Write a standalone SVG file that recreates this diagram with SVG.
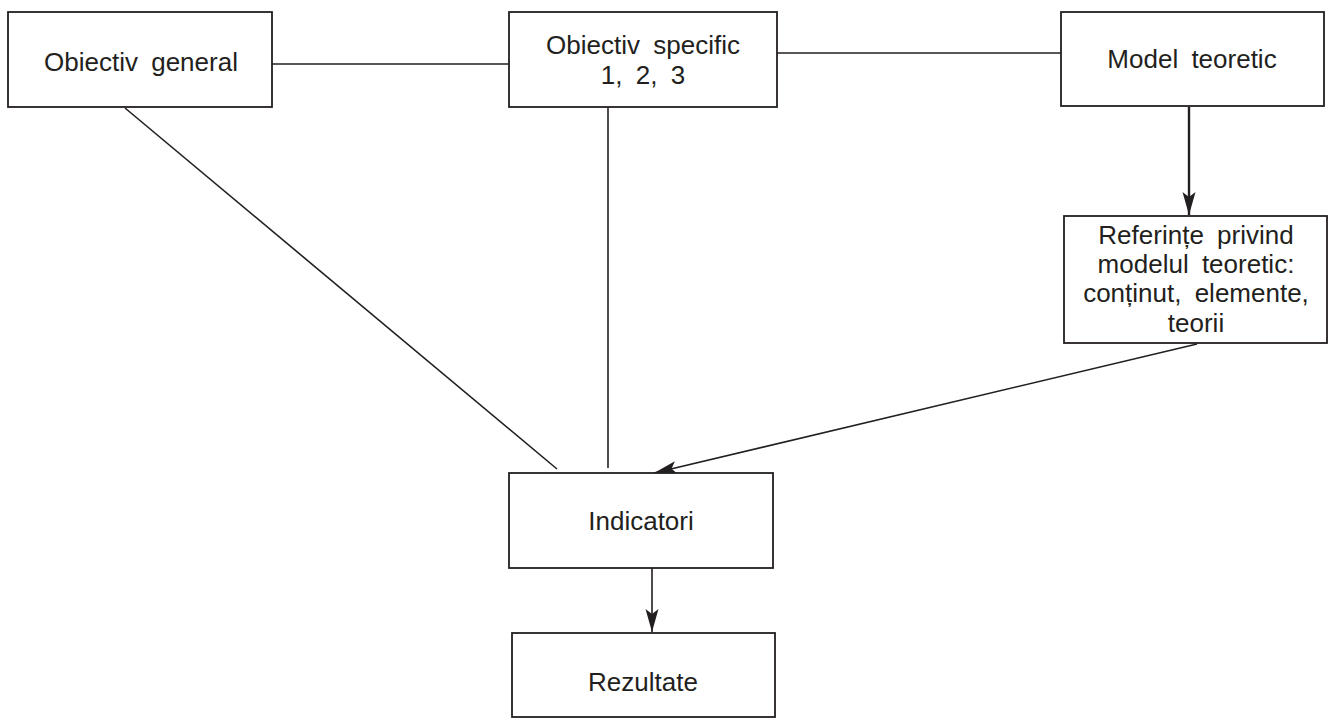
<svg xmlns="http://www.w3.org/2000/svg" width="1330" height="720" viewBox="0 0 1330 720">
  <style>
    .box { fill: #ffffff; stroke: #231f20; stroke-width: 1.8; }
    .lbl { font-family: "Liberation Sans", Arial, Helvetica, sans-serif; font-size: 26px; fill: #231f20; text-anchor: middle; word-spacing: 6px; }
    .conn { stroke: #231f20; stroke-width: 1.6; fill: none; }
    .thick { stroke-width: 2.4; }
  </style>
  <defs>
    <marker id="arrow" markerUnits="userSpaceOnUse" orient="auto" viewBox="-24 -8 26 16" refX="0" refY="0" markerWidth="26" markerHeight="16" overflow="visible">
      <path d="M0,0 L-23,-6.5 L-18,0 L-23,6.5 Z" fill="#231f20"/>
    </marker>
  </defs>
  <rect width="1330" height="720" fill="#ffffff"/>

  <g id="connectors">
    <line class="conn" x1="272" y1="64" x2="509" y2="64"/>
    <line class="conn" x1="777" y1="53" x2="1061" y2="53"/>
    <line class="conn" x1="125" y1="108" x2="557" y2="469"/>
    <line class="conn" x1="608" y1="108" x2="608" y2="468"/>
    <line class="conn thick" x1="1189" y1="107" x2="1189" y2="215" marker-end="url(#arrow)"/>
    <line class="conn" x1="1197" y1="344" x2="654" y2="473" marker-end="url(#arrow)"/>
    <line class="conn" x1="652" y1="568" x2="652" y2="632" marker-end="url(#arrow)"/>
  </g>

  <g id="obiectiv-general">
    <rect class="box" x="8" y="12" width="264" height="95"/>
    <text class="lbl" x="141" y="71">Obiectiv general</text>
  </g>

  <g id="obiectiv-specific">
    <rect class="box" x="509" y="12" width="268" height="95"/>
    <text class="lbl" x="643" y="54">Obiectiv specific</text>
    <text class="lbl" x="643" y="84">1, 2, 3</text>
  </g>

  <g id="model-teoretic">
    <rect class="box" x="1061" y="12" width="263" height="94"/>
    <text class="lbl" x="1192" y="68">Model teoretic</text>
  </g>

  <g id="referinte">
    <rect class="box" x="1064" y="216" width="263" height="127"/>
    <text class="lbl" x="1196" y="244">Referințe privind</text>
    <text class="lbl" x="1196" y="273">modelul teoretic:</text>
    <text class="lbl" x="1196" y="302">conținut, elemente,</text>
    <text class="lbl" x="1196" y="332">teorii</text>
  </g>

  <g id="indicatori">
    <rect class="box" x="509" y="473" width="264" height="95"/>
    <text class="lbl" x="641" y="530">Indicatori</text>
  </g>

  <g id="rezultate">
    <rect class="box" x="512" y="633" width="263" height="84"/>
    <text class="lbl" x="643" y="691">Rezultate</text>
  </g>
</svg>
